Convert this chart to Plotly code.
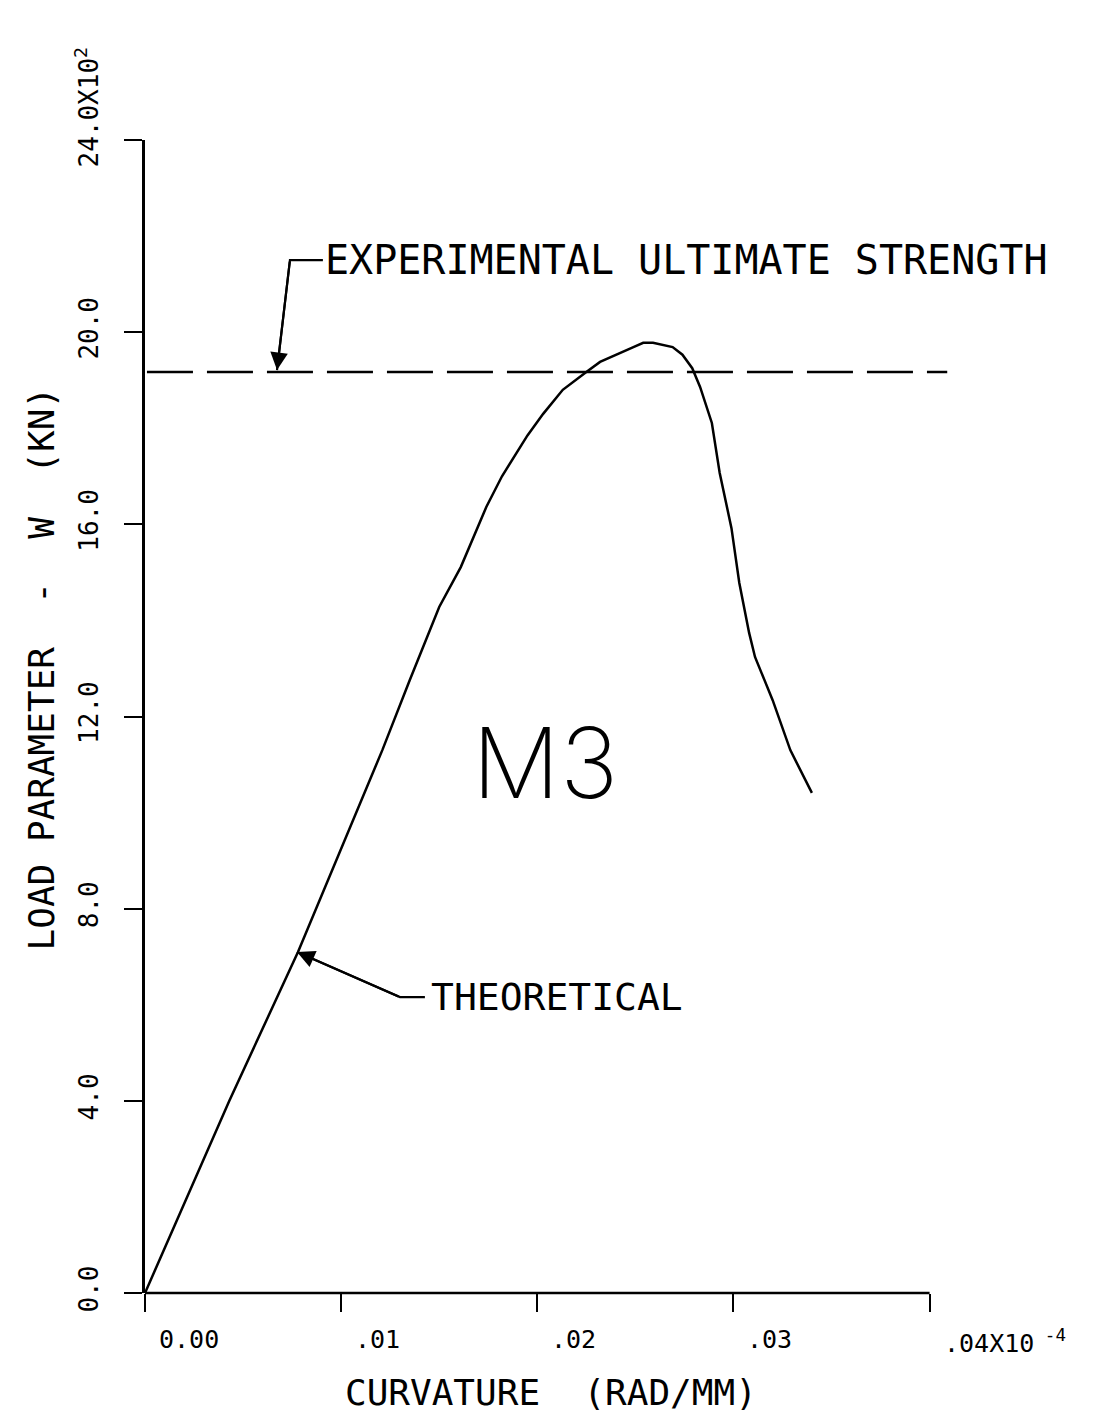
import plotly.graph_objects as go

# ---- data ----
curvature = [0.0, 0.0043, 0.0078, 0.0121, 0.0135, 0.0150, 0.0161, 0.0171, 0.0174,
             0.0182, 0.0195, 0.0203, 0.0213, 0.0225, 0.0232, 0.0249, 0.0254, 0.0259,
             0.0269, 0.0274, 0.0279, 0.0283, 0.0289, 0.0293, 0.0299, 0.0303, 0.0308,
             0.0311, 0.0320, 0.0329, 0.0340]
load = [0.0, 4.0, 7.1, 11.3, 12.76, 14.28, 15.11, 16.09, 16.36,
        17.0, 17.85, 18.3, 18.8, 19.17, 19.38, 19.69, 19.78, 19.78,
        19.69, 19.53, 19.25, 18.86, 18.11, 17.07, 15.92, 14.78, 13.74,
        13.24, 12.34, 11.30, 10.41]

exp_ultimate = 19.17
exp_line_x = [0.0001, 0.0409]

x_ticks = [0.0, 0.01, 0.02, 0.03, 0.04]
x_tick_text = ["0.00", ".01", ".02", ".03", ".04X10<sup> -4</sup>"]
y_ticks = [0, 4, 8, 12, 16, 20, 24]
y_tick_text = ["0.0", "4.0", "8.0", "12.0", "16.0", "20.0", ""]
y_top_label = "24.0X10<sup>2</sup>"

exp_label = "EXPERIMENTAL ULTIMATE STRENGTH"
exp_arrow_tip = (0.00673, 19.21)
exp_leader = [(0.00739, 21.5), (0.00907, 21.5)]
theo_label = "THEORETICAL"
theo_arrow_tip = (0.00775, 7.10)
theo_leader = [(0.0130, 6.16), (0.01427, 6.16)]
specimen = "M3"
specimen_pos = (0.0204, 11.05)

x_title = "CURVATURE  (RAD/MM)"
y_title = "LOAD PARAMETER  -  W  (KN)"

MONO = "DejaVu Sans Mono"
BLACK = "#000000"

fig = go.Figure()

fig.add_trace(go.Scatter(x=exp_line_x, y=[exp_ultimate, exp_ultimate], mode="lines",
                         line=dict(color=BLACK, width=2.5, dash="46px,14px"),
                         hoverinfo="skip", showlegend=False))
fig.add_trace(go.Scatter(x=curvature, y=load, mode="lines",
                         line=dict(color=BLACK, width=2.5),
                         hoverinfo="skip", showlegend=False))

# leader lines
fig.add_trace(go.Scatter(x=[exp_arrow_tip[0]] + [p[0] for p in exp_leader],
                         y=[exp_arrow_tip[1]] + [p[1] for p in exp_leader],
                         mode="lines", line=dict(color=BLACK, width=2.2),
                         hoverinfo="skip", showlegend=False))
fig.add_trace(go.Scatter(x=[theo_arrow_tip[0]] + [p[0] for p in theo_leader],
                         y=[theo_arrow_tip[1]] + [p[1] for p in theo_leader],
                         mode="lines", line=dict(color=BLACK, width=2.2),
                         hoverinfo="skip", showlegend=False))

annotations = []
# arrowheads
annotations.append(dict(x=exp_arrow_tip[0], y=exp_arrow_tip[1], xref="x", yref="y",
                        axref="x", ayref="y", ax=exp_leader[0][0], ay=exp_leader[0][1],
                        text="", showarrow=True, arrowhead=2, arrowsize=1.6,
                        arrowwidth=2.2, arrowcolor=BLACK))
annotations.append(dict(x=theo_arrow_tip[0], y=theo_arrow_tip[1], xref="x", yref="y",
                        axref="x", ayref="y", ax=theo_leader[0][0], ay=theo_leader[0][1],
                        text="", showarrow=True, arrowhead=2, arrowsize=1.6,
                        arrowwidth=2.2, arrowcolor=BLACK))
# labels
annotations.append(dict(x=exp_leader[1][0], y=exp_leader[1][1], xref="x", yref="y",
                        text=exp_label, showarrow=False, xanchor="left", yanchor="middle",
                        xshift=0, font=dict(family=MONO, size=40, color=BLACK)))
annotations.append(dict(x=theo_leader[1][0], y=theo_leader[1][1], xref="x", yref="y",
                        text=theo_label, showarrow=False, xanchor="left", yanchor="middle",
                        xshift=4, font=dict(family=MONO, size=38, color=BLACK)))
annotations.append(dict(x=specimen_pos[0], y=specimen_pos[1], xref="x", yref="y",
                        text=specimen, showarrow=False, xanchor="center", yanchor="middle",
                        font=dict(family="Inter, Lato, DejaVu Sans", size=98,
                                  weight=200, color=BLACK)))
# x tick labels
for v, t in zip(x_ticks, x_tick_text):
    annotations.append(dict(x=v, y=0, xref="x", yref="y", text=t, showarrow=False,
                            xanchor="left", yanchor="top", xshift=12, yshift=-30,
                            font=dict(family=MONO, size=25, color=BLACK)))
# top y tick label
annotations.append(dict(x=0, y=y_ticks[-1], xref="x", yref="y", text=y_top_label,
                        showarrow=False, textangle=-90, xanchor="center", yanchor="bottom",
                        xshift=-58, yshift=-30,
                        font=dict(family=MONO, size=26, color=BLACK)))
# axis titles
annotations.append(dict(x=0.0207, y=0, xref="x", yref="paper", text=x_title,
                        showarrow=False, xanchor="center", yanchor="middle", yshift=-99,
                        font=dict(family=MONO, size=36, color=BLACK)))
annotations.append(dict(x=0, y=13.0, xref="paper", yref="y", text=y_title,
                        showarrow=False, textangle=-90, xanchor="center", yanchor="middle",
                        xshift=-104, font=dict(family=MONO, size=36, color=BLACK)))

# x axis line (stops at .04 while the dashed line runs beyond)
fig.add_shape(type="line", xref="x", yref="paper", x0=x_ticks[0], x1=x_ticks[-1],
              y0=0, y1=0, line=dict(color=BLACK, width=2.5))

fig.update_layout(
    width=1112, height=1419,
    margin=dict(l=137, r=161, t=132, b=134),
    paper_bgcolor="white", plot_bgcolor="white",
    showlegend=False,
    annotations=annotations,
    xaxis=dict(range=[0, 0.0415], tickmode="array", tickvals=x_ticks,
               ticktext=["" for _ in x_ticks], ticks="outside", ticklen=18,
               tickwidth=2, tickcolor=BLACK, showline=False, showgrid=False,
               zeroline=False),
    yaxis=dict(range=[0, 24], tickmode="array", tickvals=y_ticks, ticktext=y_tick_text,
               ticks="outside", ticklen=18, tickwidth=2, tickcolor=BLACK,
               showline=True, linecolor=BLACK, linewidth=2.5, showgrid=False,
               zeroline=False, tickangle=-90, ticklabelstandoff=16,
               tickfont=dict(family=MONO, size=26, color=BLACK)),
)

fig.write_html("out.html")
